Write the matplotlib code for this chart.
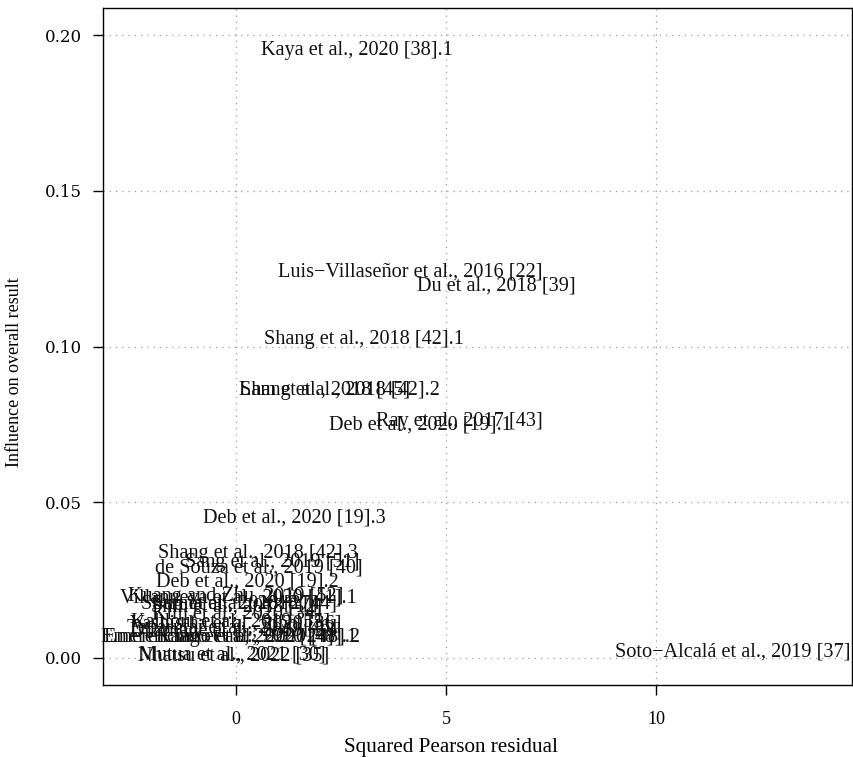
import matplotlib
matplotlib.use("Agg")
import matplotlib.pyplot as plt

plt.rcParams['font.family'] = ['Liberation Serif', 'DejaVu Serif']

# Baujat plot data: study labels, squared Pearson residual (x), influence (y)
studies = [
    "Kaya et al., 2020 [38].1",
    "Luis\u2212Villaseñor et al., 2016 [22]",
    "Du et al., 2018 [39]",
    "Shang et al., 2018 [42].1",
    "Shang et al., 2018 [42].2",
    "Lam et al., 2018 [45]",
    "Ray et al., 2017 [43]",
    "Deb et al., 2020 [19].1",
    "Deb et al., 2020 [19].3",
    "Shang et al., 2018 [42].3",
    "Sang et al., 2019 [51]",
    "de Souza et al., 2019 [40]",
    "Deb et al., 2020 [19].2",
    "Villanueva et al., 2020 [41].1",
    "Kuang and Zhu, 2019 [52]",
    "Sharma et al., 2018 [44]",
    "Sun et al., 2018 [27]",
    "Shin et al., 2018 [12]",
    "Kim et al., 2020 [34]",
    "Kahlout et al., 2019 [55]",
    "Vashistha et al., 2020 [36]",
    "Teparutai et al., 2020 [46]",
    "Dhamane et al., 2019 [23]",
    "Emerenciano et al., 2020 [48].1",
    "Emerenciano et al., 2020 [48].2",
    "Kang et al., 2020 [24]",
    "Mutua et al., 2021 [30]",
    "Nhatsu et al., 2022 [35]",
    "Soto\u2212Alcalá et al., 2019 [37]",
]
residual = [2.88, 4.14, 6.19, 3.05, 2.48, 2.10, 5.31, 4.38, 1.38, 0.52,
            0.86, 0.55, 0.26, 0.05, 0.00, 0.07, -0.02, 0.00, 0.02, -0.14,
            0.00, -0.10, 0.00, -0.17, -0.10, 0.20, -0.10, -0.05, 11.83]
influence = [0.1952, 0.1239, 0.1194, 0.1024, 0.0860, 0.0860, 0.0758, 0.0748,
             0.0449, 0.0334, 0.0308, 0.0289, 0.0244, 0.0193, 0.0196, 0.0173,
             0.0173, 0.0164, 0.0141, 0.0116, 0.0109, 0.0093, 0.0087, 0.0067,
             0.0067, 0.0067, 0.0010, 0.0006, 0.0019]

xticks = [0, 5, 10]
yticks = [0.00, 0.05, 0.10, 0.15, 0.20]

fig = plt.figure(figsize=(8.54, 7.57), dpi=100)
ax = fig.add_axes([0.1206, 0.0951, 0.8771, 0.8943])

for t in xticks:
    ax.axvline(t, color='#9a9a9a', linestyle=(0, (1, 4)), linewidth=0.9, zorder=0)
for t in yticks:
    ax.axhline(t, color='#9a9a9a', linestyle=(0, (1, 4)), linewidth=0.9, zorder=0)

for s, x, y in zip(studies, residual, influence):
    ax.text(x, y, s, ha='center', va='center', fontsize=14.6, color='#111111')

ax.set_xlim(-3.17, 14.67)
ax.set_ylim(-0.0087, 0.2087)
ax.set_xticks(xticks)
ax.set_xticklabels([str(t) for t in xticks], fontsize=13)
ax.set_yticks(yticks)
ax.set_yticklabels(["%.2f" % t for t in yticks], fontsize=12, family='DejaVu Serif')
ax.tick_params(direction='out', length=7, width=1, pad=8)
ax.tick_params(axis='x', pad=12)
for sp in ax.spines.values():
    sp.set_linewidth(1)

ax.set_xlabel("Squared Pearson residual", fontsize=15.2)
ax.xaxis.set_label_coords(0.465, -0.078)
ax.set_ylabel("Influence on overall result", fontsize=13)
ax.yaxis.set_label_coords(-0.107, 0.462)

fig.savefig("out.png", dpi=100)
